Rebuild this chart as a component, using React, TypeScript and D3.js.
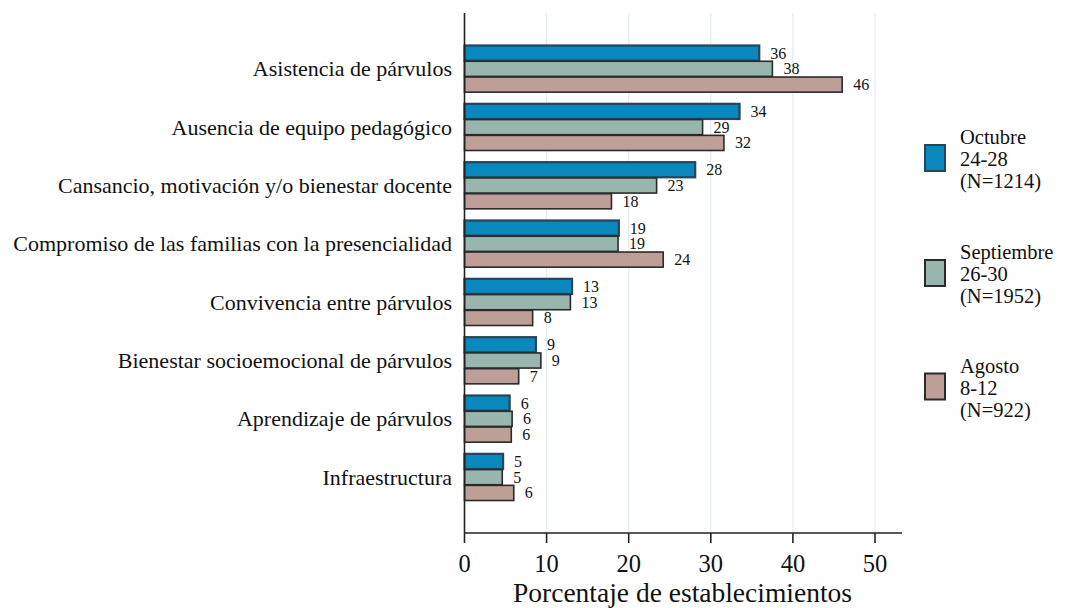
import React from "react";
import * as d3 from "d3";

const categories = [
  "Asistencia de párvulos",
  "Ausencia de equipo pedagógico",
  "Cansancio, motivación y/o bienestar docente",
  "Compromiso de las familias con la presencialidad",
  "Convivencia entre párvulos",
  "Bienestar socioemocional de párvulos",
  "Aprendizaje de párvulos",
  "Infraestructura",
];

const seriesNames = ["Octubre", "Septiembre", "Agosto"];
const legendLines = [
  ["Octubre", "24-28", "(N=1214)"],
  ["Septiembre", "26-30", "(N=1952)"],
  ["Agosto", "8-12", "(N=922)"],
];

const octubre = [35.9, 33.5, 28.1, 18.8, 13.1, 8.7, 5.5, 4.7];
const septiembre = [37.5, 29.0, 23.4, 18.7, 12.9, 9.3, 5.8, 4.6];
const agosto = [46.0, 31.6, 17.9, 24.2, 8.3, 6.6, 5.7, 6.0];

const xTicks = [0, 10, 20, 30, 40, 50];

const fills = ["#0a88be", "#98b6ad", "#bd9f98"];
const strokes = ["#24465c", "#2a2a2a", "#2a2a2a"];

export default function App() {
  const W = 1075;
  const H = 608;
  const left = 464.5;
  const top = 13;
  const bottom = 533;
  const x = d3.scaleLinear().domain([0, 50]).range([left, 875]);
  const xEnd = 902;
  const y = d3
    .scaleBand<string>()
    .domain(categories)
    .range([top, bottom])
    .paddingInner(0.2)
    .paddingOuter(0.557);
  const sub = d3
    .scaleBand<string>()
    .domain(seriesNames)
    .range([0, y.bandwidth()])
    .paddingInner(0.04);
  const allSeries = [octubre, septiembre, agosto];
  const font = "'Liberation Serif', 'Times New Roman', serif";
  const legendCenters = [158, 273, 386.5];

  return (
    <svg
      width={W}
      height={H}
      style={{ position: "absolute", left: 0, top: 0, background: "#fff" }}
      fontFamily={font}
    >
      {xTicks.slice(1).map((t) => (
        <line
          key={"g" + t}
          x1={x(t)}
          x2={x(t)}
          y1={top}
          y2={bottom}
          stroke="#e3ecf1"
          strokeWidth={1.2}
        />
      ))}
      {categories.map((c, i) => (
        <g key={c}>
          {allSeries.map((s, j) => {
            const by = (y(c) as number) + (sub(seriesNames[j]) as number);
            const bh = sub.bandwidth();
            return (
              <g key={j}>
                <rect
                  x={x(0)}
                  y={by}
                  width={x(s[i]) - x(0)}
                  height={bh}
                  fill={fills[j]}
                  stroke={strokes[j]}
                  strokeWidth={j === 0 ? 2.2 : 1.6}
                />
                <text
                  x={x(s[i]) + 11}
                  y={by + bh / 2}
                  dominantBaseline="central"
                  fontSize={16}
                  fill="#111"
                >
                  {Math.round(s[i])}
                </text>
              </g>
            );
          })}
          <text
            x={452}
            y={(y(c) as number) + y.bandwidth() / 2}
            dominantBaseline="central"
            textAnchor="end"
            fontSize={22}
            fill="#111"
          >
            {c}
          </text>
        </g>
      ))}
      <line x1={left} x2={left} y1={top} y2={bottom} stroke="#222" strokeWidth={1.6} />
      <line x1={left} x2={xEnd} y1={bottom} y2={bottom} stroke="#222" strokeWidth={1.6} />
      {xTicks.map((t) => (
        <g key={"t" + t}>
          <line x1={x(t)} x2={x(t)} y1={bottom} y2={543} stroke="#222" strokeWidth={1.6} />
          <text x={x(t)} y={572} textAnchor="middle" fontSize={24.5} fill="#111">
            {t}
          </text>
        </g>
      ))}
      <text x={682.5} y={602} textAnchor="middle" fontSize={27.5} fill="#111">
        Porcentaje de establecimientos
      </text>
      {legendLines.map((lines, j) => (
        <g key={"l" + j}>
          <rect
            x={925}
            y={legendCenters[j] - 13}
            width={20}
            height={26}
            fill={fills[j]}
            stroke={strokes[j]}
            strokeWidth={2}
          />
          {lines.map((ln, k) => (
            <text
              key={k}
              x={960}
              y={legendCenters[j] - 14 + k * 22}
              fontSize={20.5}
              fill="#111"
            >
              {ln}
            </text>
          ))}
        </g>
      ))}
    </svg>
  );
}
